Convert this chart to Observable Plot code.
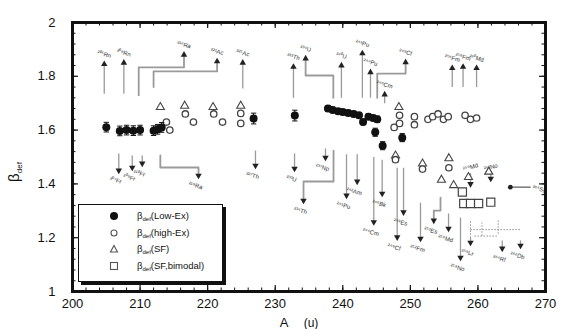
<!DOCTYPE html>
<html>
<head>
<meta charset="utf-8">
<script src="https://cdn.jsdelivr.net/npm/d3@7"></script>
<script src="https://cdn.jsdelivr.net/npm/@observablehq/plot@0.6"></script>
<style>
  html,body{margin:0;padding:0;background:#fff;}
  #wrap{position:relative;width:564px;height:329px;overflow:hidden;font-family:"Liberation Sans",Arial,Helvetica,sans-serif;color:#111;}
  #legend{position:absolute;left:78px;top:204px;width:143px;height:76px;border:1.5px solid #111;box-shadow:3px 3px 0 #111;background:#fff;}
  .row{position:absolute;left:0;width:140px;height:14px;font-size:9.5px;line-height:14px;}
  .row svg{position:absolute;left:30px;top:2px;}
  .row span{position:absolute;left:58px;top:0;white-space:nowrap;}
  .row sub{font-size:6px;vertical-align:-2px;}
</style>
</head>
<body>
<div id="wrap"></div>
<script>
// ---------- data ----------
const xTicks = [200, 210, 220, 230, 240, 250, 260, 270];
const yTicks = [1, 1.2, 1.4, 1.6, 1.8, 2];
const xMinor = d3.range(200, 271, 2);
const yMinor = d3.range(0, 26).map(i => 1 + i * 0.04);

// beta_def (Low-Ex): filled circles with error bars
const lowExA = [205, 207, 208, 209, 210, 212, 212.6, 213.2, 226.8, 232.9, 237.8, 238.5, 239.3, 240, 240.8, 241.6, 242.4, 243, 243.8, 244.5, 245.1, 244.8, 245.9, 248.8];
const lowExB = [1.611, 1.597, 1.600, 1.598, 1.600, 1.598, 1.603, 1.610, 1.643, 1.654, 1.680, 1.675, 1.670, 1.667, 1.664, 1.660, 1.655, 1.630, 1.650, 1.645, 1.640, 1.592, 1.542, 1.572];
const lowExErr = [0.018, 0.018, 0.018, 0.018, 0.018, 0.018, 0.018, 0.018, 0.02, 0.02, 0.01, 0.01, 0.01, 0.01, 0.01, 0.01, 0.01, 0.01, 0.01, 0.01, 0.012, 0.015, 0.015, 0.015];

// beta_def (high-Ex): open circles
const highExA = [213.9, 214.4, 216.7, 217.9, 220.9, 222.2, 224.9, 224.9, 247.6, 248.4, 248.4, 250.6, 250.6, 252.6, 253.3, 254.1, 254.9, 255.6, 258.1, 258.9, 259.8, 247.8, 251.8, 255.7];
const highExB = [1.630, 1.600, 1.660, 1.630, 1.660, 1.630, 1.662, 1.625, 1.610, 1.655, 1.625, 1.650, 1.620, 1.640, 1.650, 1.660, 1.640, 1.650, 1.655, 1.640, 1.645, 1.490, 1.455, 1.460];

// beta_def (SF): open triangles
const sfA = [213.0, 216.6, 220.8, 224.9, 248.3, 247.8, 251.8, 255.7, 254.6, 256.4, 258.6, 261.6];
const sfB = [1.685, 1.690, 1.685, 1.690, 1.685, 1.505, 1.475, 1.495, 1.415, 1.395, 1.425, 1.445];

// beta_def (SF, bimodal): open squares
const sfBiA = [257.7, 257.9, 258.9, 260.1, 261.9];
const sfBiB = [1.370, 1.327, 1.327, 1.327, 1.332];

// dotted ranges (SF, bimodal second mode)
const dotA = [258.9, 260.6, 263.0];
const dotLo = [1.200, 1.208, 1.215];
const dotHi = [1.264, 1.256, 1.270];
const dotHA1 = [258.9, 259.5];
const dotHA2 = [266.3, 263.0];
const dotHB = [1.230, 1.206];

// upward arrows with nuclide labels
const upA = [204.7, 207.6, 225.2, 232.7, 239.8, 242.9, 244.1, 246.2, 256.2, 257.8, 259.8];
const upFrom = [1.735, 1.735, 1.755, 1.72, 1.72, 1.72, 1.72, 1.70, 1.76, 1.76, 1.76];
const upTo = [1.845, 1.850, 1.850, 1.835, 1.840, 1.885, 1.815, 1.732, 1.830, 1.835, 1.830];
const upLabel = ["²⁰⁵Rn", "²⁰⁸Rn", "²²⁵Ac", "²³³Th", "²⁴⁰U", "²⁴³Pu", "²⁴⁴Pu", "²⁴⁶Cm", "²⁵⁶Fm", "²⁵⁸Fm", "²⁶⁰Md"];

// upward bracket connectors (polyline points)
const upBrId = [0, 0, 0, 0, 1, 1, 1, 1, 2, 2, 2, 2, 3, 3, 3, 3];
const upBrA = [209.8, 209.8, 216.5, 216.5, 212.0, 212.0, 221.4, 221.4, 238.6, 238.6, 234.5, 234.5, 245.1, 245.1, 249.3, 249.3];
const upBrB = [1.73, 1.833, 1.833, 1.88, 1.76, 1.818, 1.818, 1.855, 1.72, 1.803, 1.803, 1.866, 1.72, 1.81, 1.81, 1.852];
const upBrLabel = ["²¹⁶Ra", "²²¹Ac", "²³⁴U", "²⁴⁹Cf"];

// downward arrows with nuclide labels
const downA = [206.85, 208.84, 210.32, 227.08, 232.86, 237.44, 240.55, 242.13, 244.59, 245.83, 248.05, 248.99, 251.5, 255.65, 257.42, 258.9, 263.6, 266.3];
const downFrom = [1.513, 1.506, 1.506, 1.524, 1.513, 1.532, 1.51, 1.51, 1.50, 1.49, 1.46, 1.46, 1.33, 1.29, 1.275, 1.20, 1.19, 1.19];
const downTo = [1.450, 1.461, 1.476, 1.468, 1.457, 1.498, 1.357, 1.409, 1.258, 1.364, 1.202, 1.295, 1.197, 1.234, 1.126, 1.182, 1.160, 1.171];
const downLabel = ["²⁰⁷Fr", "²⁰⁹Fr", "²¹⁰Fr", "²²⁷Th", "²³³U", "²³⁷Np", "²⁴¹Pu", "²⁴²Am", "²⁴⁴Cm", "²⁴⁶Bk", "²⁴⁸Cf", "²⁴⁹Es", "²⁵²Fm", "²⁵⁶Md", "²⁵⁸No", "²⁵⁹Lr", "²⁶⁴Rf", "²⁶⁶Db"];

// downward arrows labelled at their top
const down2A = [258.9, 261.9];
const down2From = [1.44, 1.44];
const down2To = [1.40, 1.42];
const down2Label = ["²⁵⁹Md", "²⁶²No"];

// downward bracket connectors
const dnBrId = [0, 0, 0, 0, 1, 1, 1, 1, 2, 2, 2, 2];
const dnBrA = [213.0, 213.0, 218.65, 218.65, 238.63, 238.63, 234.19, 234.19, 254.46, 254.46, 253.47, 253.47];
const dnBrB = [1.506, 1.461, 1.461, 1.431, 1.524, 1.409, 1.409, 1.338, 1.349, 1.301, 1.301, 1.264];
const dnBrLabel = ["²¹⁹Ra", "²³⁴Th", "²⁵³Es"];

// horizontal arrow on the right
const sideA1 = [264.8];
const sideA2 = [267.8];
const sideB = [1.388];
const sideLabel = ["²⁶⁵Sg"];

// ---------- tables ----------
const lowEx = lowExA.map((A, i) => ({A, b: lowExB[i], e: lowExErr[i]}));
const caps = lowEx.flatMap(d => [{A: d.A, b: d.b - d.e}, {A: d.A, b: d.b + d.e}]);
const highEx = highExA.map((A, i) => ({A, b: highExB[i]}));
const sf = sfA.map((A, i) => ({A, b: sfB[i]}));
const sfBi = sfBiA.map((A, i) => ({A, b: sfBiB[i]}));
const dots = dotA.map((A, i) => ({A, lo: dotLo[i], hi: dotHi[i]}));
const dotsH = dotHA1.map((A, i) => ({A1: A, A2: dotHA2[i], b: dotHB[i]}));
const up = upA.map((A, i) => ({A, from: upFrom[i], to: upTo[i], label: upLabel[i]}));
const upBr = upBrA.map((A, i) => ({id: upBrId[i], A, b: upBrB[i]}));
const upBrEnd = d3.groups(upBr, d => d.id).map(([id, pts]) => ({...pts[pts.length - 1], label: upBrLabel[id]}));
const down = downA.map((A, i) => ({A, from: downFrom[i], to: downTo[i], label: downLabel[i]}));
const down2 = down2A.map((A, i) => ({A, from: down2From[i], to: down2To[i], label: down2Label[i]}));
const dnBr = dnBrA.map((A, i) => ({id: dnBrId[i], A, b: dnBrB[i]}));
const dnBrEnd = d3.groups(dnBr, d => d.id).map(([id, pts]) => ({...pts[pts.length - 1], label: dnBrLabel[id]}));
const side = sideA1.map((A, i) => ({A1: A, A2: sideA2[i], b: sideB[i], label: sideLabel[i]}));

const capSymbol = {draw(ctx, size) { const w = Math.sqrt(size) * 0.6; ctx.moveTo(-w, 0); ctx.lineTo(w, 0); }};

const W = 564, H = 329, mL = 72, mR = 19, mT = 22, mB = 38;
const innerW = W - mL - mR, innerH = H - mT - mB;
const lineGrey = "#9a9a9a";
const labFill = "#333";
const labSize = 6;

const plot = Plot.plot({
  width: W,
  height: H,
  marginLeft: mL,
  marginRight: mR,
  marginTop: mT,
  marginBottom: mB,
  x: {domain: [200, 270], label: null},
  y: {domain: [1, 2], label: null},
  style: {fontFamily: "'Liberation Sans', Arial, Helvetica, sans-serif", color: "#111", background: "#fff"},
  marks: [
    // tick labels
    Plot.axisX({ticks: xTicks, tickSize: 0, tickPadding: 7, tickFormat: d => String(d), fontSize: 13, label: null}),
    Plot.axisY({ticks: yTicks, tickSize: 0, tickPadding: 17, tickFormat: d => String(+d.toFixed(1)), fontSize: 13, label: null}),
    // inward ticks on all four sides
    Plot.ruleX(xTicks, {x: d => d, insetTop: innerH - 6, stroke: "#111", strokeWidth: 1.2}),
    Plot.ruleX(xTicks, {x: d => d, insetBottom: innerH - 6, stroke: "#111", strokeWidth: 1.2}),
    Plot.ruleX(xMinor, {x: d => d, insetTop: innerH - 3.5, stroke: "#111", strokeWidth: 1}),
    Plot.ruleX(xMinor, {x: d => d, insetBottom: innerH - 3.5, stroke: "#111", strokeWidth: 1}),
    Plot.ruleY(yTicks, {y: d => d, insetRight: innerW - 6, stroke: "#111", strokeWidth: 1.2}),
    Plot.ruleY(yTicks, {y: d => d, insetLeft: innerW - 6, stroke: "#111", strokeWidth: 1.2}),
    Plot.ruleY(yMinor, {y: d => d, insetRight: innerW - 3.5, stroke: "#111", strokeWidth: 1}),
    Plot.ruleY(yMinor, {y: d => d, insetLeft: innerW - 3.5, stroke: "#111", strokeWidth: 1}),

    // connectors and arrows
    Plot.line(upBr, {x: "A", y: "b", z: "id", stroke: lineGrey, strokeWidth: 1.8, curve: "linear"}),
    Plot.line(dnBr, {x: "A", y: "b", z: "id", stroke: lineGrey, strokeWidth: 1.8, curve: "linear"}),
    Plot.link(up, {x1: "A", x2: "A", y1: "from", y2: "to", stroke: lineGrey, strokeWidth: 1.3}),
    Plot.link(down, {x1: "A", x2: "A", y1: "from", y2: "to", stroke: lineGrey, strokeWidth: 1.3}),
    Plot.link(down2, {x1: "A", x2: "A", y1: "from", y2: "to", stroke: lineGrey, strokeWidth: 1.3}),
    Plot.link(side, {x1: "A1", x2: "A2", y1: "b", y2: "b", stroke: "#555", strokeWidth: 1.2}),
    Plot.dot(up, {x: "A", y: "to", symbol: "triangle", r: 2.4, fill: "#222"}),
    Plot.dot(upBrEnd, {x: "A", y: "b", symbol: "triangle", r: 2.4, fill: "#222"}),
    Plot.dot(down, {x: "A", y: "to", symbol: "triangle", rotate: 180, r: 2.4, fill: "#222"}),
    Plot.dot(down2, {x: "A", y: "to", symbol: "triangle", rotate: 180, r: 2.4, fill: "#222"}),
    Plot.dot(dnBrEnd, {x: "A", y: "b", symbol: "triangle", rotate: 180, r: 2.4, fill: "#222"}),
    Plot.dot(side, {x: "A1", y: "b", r: 2.4, fill: "#222"}),
    Plot.text(up, {x: "A", y: "to", text: "label", dy: -10, rotate: 15, fontSize: labSize, fill: labFill}),
    Plot.text(upBrEnd, {x: "A", y: "b", text: "label", dy: -10, rotate: 15, fontSize: labSize, fill: labFill}),
    Plot.text(down, {x: "A", y: "to", text: "label", dy: 10, dx: -3, rotate: 15, fontSize: labSize, fill: labFill}),
    Plot.text(down2, {x: "A", y: "from", text: "label", dy: -6, rotate: -15, fontSize: labSize, fill: labFill}),
    Plot.text(dnBrEnd, {x: "A", y: "b", text: "label", dy: 10, dx: -3, rotate: 15, fontSize: labSize, fill: labFill}),
    Plot.text(side, {x: "A2", y: "b", text: "label", dx: 2, textAnchor: "start", rotate: 15, fontSize: labSize, fill: labFill}),

    // dotted ranges
    Plot.link(dots, {x1: "A", x2: "A", y1: "lo", y2: "hi", stroke: "#777", strokeWidth: 1, strokeDasharray: "1.2,1.8"}),
    Plot.link(dotsH, {x1: "A1", x2: "A2", y1: "b", y2: "b", stroke: "#777", strokeWidth: 1, strokeDasharray: "1.2,1.8"}),

    // data symbols
    Plot.dot(sfBi, {x: "A", y: "b", symbol: "square", r: 4.6, stroke: "#444", strokeWidth: 1.2, fill: "white"}),
    Plot.dot(sf, {x: "A", y: "b", symbol: "triangle", r: 3, stroke: "#444", strokeWidth: 1.1, fill: "white"}),
    Plot.dot(highEx, {x: "A", y: "b", r: 3.2, stroke: "#444", strokeWidth: 1.3, fill: "white"}),
    Plot.link(lowEx, {x1: "A", x2: "A", y1: d => d.b - d.e, y2: d => d.b + d.e, stroke: "#111", strokeWidth: 1}),
    Plot.dot(caps, {x: "A", y: "b", symbol: capSymbol, r: 2.5, stroke: "#111", strokeWidth: 1}),
    Plot.dot(lowEx, {x: "A", y: "b", r: 4, fill: "#111"}),

    Plot.frame({stroke: "#111", strokeWidth: 3})
  ]
});

const wrap = document.getElementById("wrap");
wrap.appendChild(plot);

// axis titles
const svg = d3.select(plot);
const yl = svg.append("text")
  .attr("transform", "translate(19,172) rotate(-90)")
  .attr("font-size", 15).attr("fill", "#111");
yl.append("tspan").text("β");
yl.append("tspan").attr("font-size", 8).attr("dy", 3).text("def");

const xl = svg.append("text").attr("x", 284).attr("y", 327).attr("font-size", 13).attr("fill", "#111");
xl.append("tspan").text("A");
xl.append("tspan").attr("x", 311).attr("font-size", 12).text("(u)");

// legend
const legendItems = [
  {sym: "fill", text: "(Low-Ex)"},
  {sym: "circle", text: "(high-Ex)"},
  {sym: "triangle", text: "(SF)"},
  {sym: "square", text: "(SF,bimodal)"}
];
const leg = document.createElement("div");
leg.id = "legend";
legendItems.forEach((it, i) => {
  const row = document.createElement("div");
  row.className = "row";
  row.style.top = (4 + i * 16.5) + "px";
  let shape = "";
  if (it.sym === "fill") shape = '<circle cx="5" cy="5" r="4" fill="#111"/>';
  if (it.sym === "circle") shape = '<circle cx="5" cy="5" r="3" fill="#fff" stroke="#555" stroke-width="1.1"/>';
  if (it.sym === "triangle") shape = '<path d="M5,1.5L8.5,8L1.5,8Z" fill="#fff" stroke="#555" stroke-width="1.1"/>';
  if (it.sym === "square") shape = '<rect x="1.5" y="1.5" width="7" height="7" fill="#fff" stroke="#555" stroke-width="1.1"/>';
  row.innerHTML = '<svg width="10" height="10">' + shape + '</svg><span>β<sub>def</sub>' + it.text + '</span>';
  leg.appendChild(row);
});
wrap.appendChild(leg);
</script>
</body>
</html>
